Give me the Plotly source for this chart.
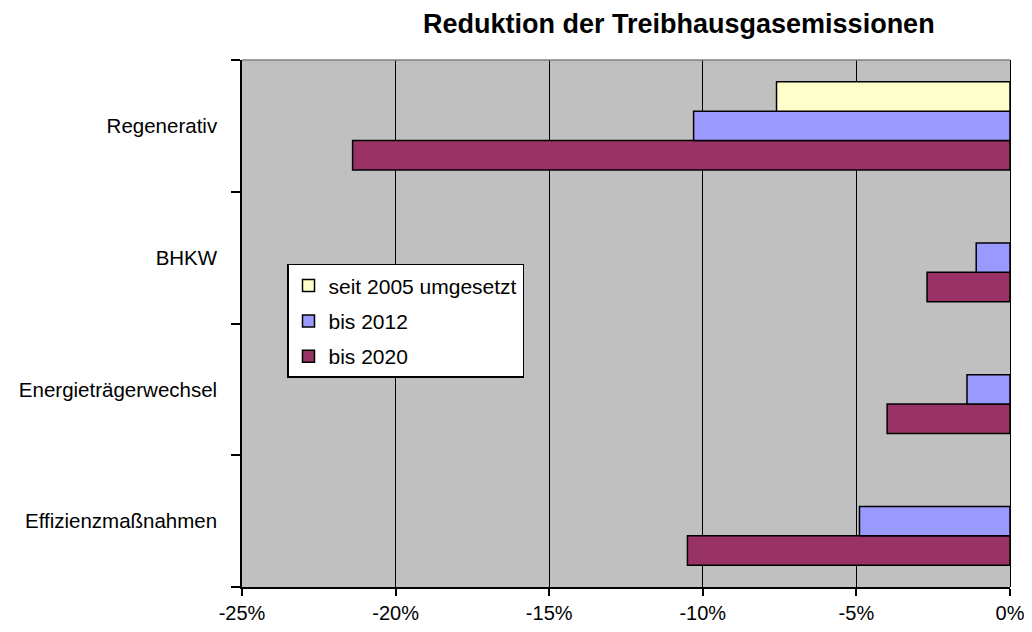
import plotly.graph_objects as go

categories = ["Effizienzmaßnahmen", "Energieträgerwechsel", "BHKW", "Regenerativ"]
seit_2005 = [None, None, None, -7.6]
bis_2012 = [-4.9, -1.4, -1.1, -10.3]
bis_2020 = [-10.5, -4.0, -2.7, -21.4]
x_ticks = [-25, -20, -15, -10, -5, 0]
x_ticklabels = ["-25%", "-20%", "-15%", "-10%", "-5%", "0%"]

FONT = "Liberation Sans, Arial, sans-serif"

fig = go.Figure()
series = [
    ("bis 2020", bis_2020, "#993366", 3),
    ("bis 2012", bis_2012, "#9999FF", 2),
    ("seit 2005 umgesetzt", seit_2005, "#FFFFCC", 1),
]
for name, vals, col, rank in series:
    fig.add_trace(go.Bar(
        y=categories, x=vals, name=name, orientation="h",
        marker=dict(color=col, line=dict(color="black", width=1.5)),
        legendgroup=name, legendrank=rank,
    ))

fig.update_layout(
    width=1024, height=624,
    margin=dict(l=234, r=22, t=52, b=45, autoexpand=False),
    barmode="group", bargap=0.33, bargroupgap=0,
    paper_bgcolor="white", plot_bgcolor="#C0C0C0",
    font=dict(family=FONT, size=20, color="black"),
    annotations=[dict(
        text="<b>Reduktion der Treibhausgasemissionen</b>",
        xref="paper", yref="paper", x=0.569, y=1.0, yshift=36,
        showarrow=False, xanchor="center", yanchor="middle",
        font=dict(family=FONT, size=27, color="black"),
    )],
    legend=dict(
        x=0.0586, y=0.613, xanchor="left", yanchor="top",
        bgcolor="white", bordercolor="black", borderwidth=1.5,
        font=dict(family=FONT, size=21, color="black"),
        traceorder="grouped", tracegroupgap=5,
        itemwidth=30,
    ),
    xaxis=dict(
        range=[-25, 0], tickvals=x_ticks, ticktext=x_ticklabels,
        showgrid=True, gridcolor="black", gridwidth=1,
        zeroline=True, zerolinecolor="black", zerolinewidth=1,
        showline=True, linecolor="black", linewidth=1.5,
        ticks="outside", ticklen=7, tickcolor="black", tickwidth=1.5,
        tickfont=dict(family=FONT, size=20), fixedrange=True,
        automargin=False, ticklabeloverflow="allow",
    ),
    yaxis=dict(
        categoryorder="array", categoryarray=categories,
        showgrid=False, showline=True, linecolor="black", linewidth=1.5,
        ticks="outside", ticklen=9, tickcolor="black", tickwidth=1.5,
        tickson="boundaries", ticklabelstandoff=19,
        tickfont=dict(family=FONT, size=20.5), fixedrange=True,
        automargin=False,
    ),
    shapes=[dict(type="line", xref="paper", yref="paper", x0=0, x1=1, y0=1, y1=1,
                 line=dict(color="#808080", width=1.5))],
    showlegend=True,
)

fig.write_html("out.html")
